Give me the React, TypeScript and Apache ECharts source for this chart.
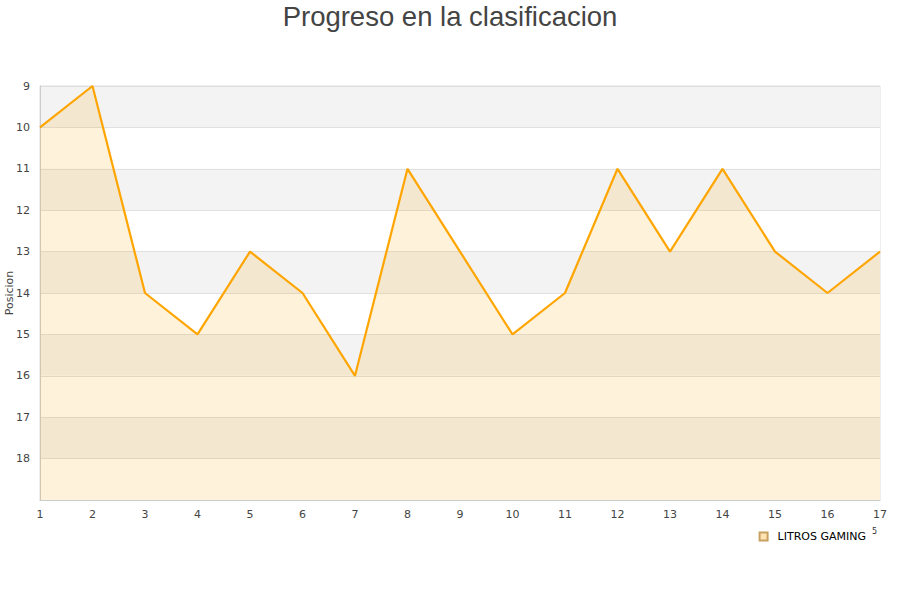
import React, { useEffect, useRef } from "react";
import * as echarts from "echarts";

const jornadas = ["1","2","3","4","5","6","7","8","9","10","11","12","13","14","15","16","17"];
const posiciones = [10, 9, 14, 15, 13, 14, 16, 11, 13, 15, 14, 11, 13, 11, 13, 14, 13];
const seriesName = "LITROS GAMING";
const titleText = "Progreso en la clasificacion";

export default function App() {
  const ref = useRef<HTMLDivElement>(null);
  useEffect(() => {
    const chart = echarts.init(ref.current!, null, { renderer: "svg" });
    chart.setOption({
      animation: false,
      backgroundColor: "#fff",
      title: {
        text: titleText,
        left: "center",
        top: -3,
        textStyle: { fontFamily: "Liberation Sans, Arial, sans-serif", fontSize: 27.5, fontWeight: "normal", color: "#444" },
      },
      legend: {
        data: [{ name: seriesName, icon: "rect" }],
        right: 29,
        top: 526,
        itemWidth: 8,
        itemHeight: 8,
        textStyle: { fontFamily: "DejaVu Sans, sans-serif", fontSize: 11, color: "#000", padding: [0, 0, 0, 5] },
      },
      grid: {
        left: 40,
        right: 20,
        top: 86,
        bottom: 100,
        outerBoundsMode: "none",
        containLabel: false,
        show: true,
        borderColor: "#ddd",
        borderWidth: 1,
      },
      xAxis: {
        type: "category",
        data: jornadas,
        boundaryGap: false,
        axisLine: { lineStyle: { color: "#ccc" } },
        axisTick: { show: false },
        axisLabel: { color: "#444", fontSize: 11, fontFamily: "DejaVu Sans, sans-serif", margin: 9 },
        splitLine: { show: false },
      },
      yAxis: {
        type: "value",
        inverse: true,
        min: 9,
        max: 19,
        interval: 1,
        name: "Posicion",
        nameLocation: "middle",
        nameGap: 25,
        nameMoveOverlap: false,
        nameTextStyle: { fontSize: 11, color: "#444", fontFamily: "DejaVu Sans, sans-serif" },
        axisLine: { show: true, lineStyle: { color: "#ccc" } },
        axisTick: { show: false },
        axisLabel: {
          color: "#444",
          fontSize: 11,
          fontFamily: "DejaVu Sans, sans-serif",
          margin: 10,
          showMaxLabel: false,
        },
        splitLine: { show: true, lineStyle: { color: "#e0e0e0" } },
        splitArea: { show: true, areaStyle: { color: ["#f3f3f3", "#ffffff"] } },
      },
      graphic: [
        {
          type: "text",
          left: 872,
          top: 527,
          style: { text: "5", fontSize: 8, fill: "#333", fontFamily: "DejaVu Sans, sans-serif" },
        },
      ],
      series: [
        {
          name: seriesName,
          type: "line",
          data: posiciones,
          showSymbol: false,
          symbol: "none",
          lineStyle: { color: "#ffa500", width: 2.2 },
          itemStyle: { color: "#ffe4b3", borderColor: "#c8a060", borderWidth: 1 },
          areaStyle: { color: "rgba(255,165,0,0.2)", origin: "end" },
        },
      ],
    });
    return () => chart.dispose();
  }, []);
  return <div ref={ref} style={{ position: "fixed", left: 0, top: 0, width: 900, height: 600 }} />;
}
